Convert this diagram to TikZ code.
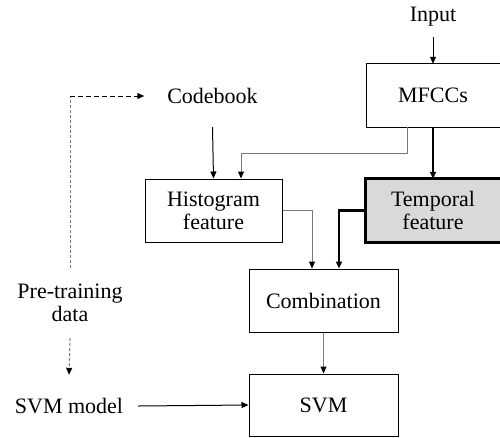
\documentclass[tikz,border=0pt]{standalone}
\usepackage{fontspec}
\setmainfont{Liberation Serif}
\newfontfamily\diagfont{Liberation Serif}
\usetikzlibrary{arrows.meta}
\definecolor{linegray}{HTML}{7A7A7A}
\definecolor{fillgray}{HTML}{D9D9D9}
\begin{document}
\begin{tikzpicture}[x=1pt,y=-1pt,
  font=\diagfont\fontsize{22}{23}\selectfont,
  tip/.style={-{Triangle[length=7pt,width=6pt,color=black]}},
  blk/.style={align=center, inner sep=0pt},
  thin line/.style={line width=1pt},
  thick line/.style={line width=2.7pt},
]
\useasboundingbox (0,0) rectangle (500,437);

% text-only nodes
\node[blk, minimum height=40] (input) at (433,17) {Input};
\node[blk, minimum width=136, minimum height=62] (codebook) at (212.5,96) {Codebook};
\node[blk, minimum height=70] (pretrain) at (70,303) {Pre-training\\data};
\node[blk, minimum width=138, minimum height=62] (svmmodel) at (69,406) {SVM model};

% boxes
\node[blk, minimum width=132, minimum height=63] (mfcc) at (433,95.5) {MFCCs};
\draw[thin line] (mfcc.north west) rectangle ([xshift=20pt]mfcc.south east);

\node[blk, minimum width=134, minimum height=63] (temporal) at (433,210.5) {};
\draw[thick line, fill=fillgray] (temporal.north west) rectangle ([xshift=20pt]temporal.south east);
\node[blk] at (temporal.center) {Temporal\\feature};

\node[blk, draw, thin line, minimum width=137, minimum height=63] (hist) at (213.5,210.5) {Histogram\\feature};
\node[blk, draw, thin line, minimum width=149, minimum height=63] (comb) at (323.5,300.5) {Combination};
\node[blk, draw, thin line, minimum width=149, minimum height=62] (svm) at (323.5,405) {SVM};

% connectors
\draw[thin line, tip] (input.south) -- (mfcc.north);
\draw[thick line, tip] (mfcc.south) -- (temporal.north);
\draw[thin line, linegray, tip] ([xshift=-26pt]mfcc.south) -- ++(0,26) -| ([xshift=27.5pt]hist.north);
\draw[thin line, tip] (codebook.south) -- (hist.north);
\draw[thin line, linegray, tip] (hist.east) -| ([xshift=-11.5pt]comb.north);
\draw[thick line, tip] (temporal.west) -| ([xshift=15.5pt]comb.north);
\draw[thin line, linegray, tip] (comb.south) -- (svm.north);
\draw[thin line, tip] (svmmodel.east) -- (svm.west);

\coordinate (corner) at (pretrain.north |- codebook.west);
\draw[thin line, linegray, dash pattern=on 3pt off 2pt] (pretrain.north) -- (corner);
\draw[thin line, dash pattern=on 5pt off 3pt, tip] (corner) -- (codebook.west);
\draw[thin line, linegray, dash pattern=on 3pt off 2pt, tip] (pretrain.south) -- (svmmodel.north);
\end{tikzpicture}
\end{document}
